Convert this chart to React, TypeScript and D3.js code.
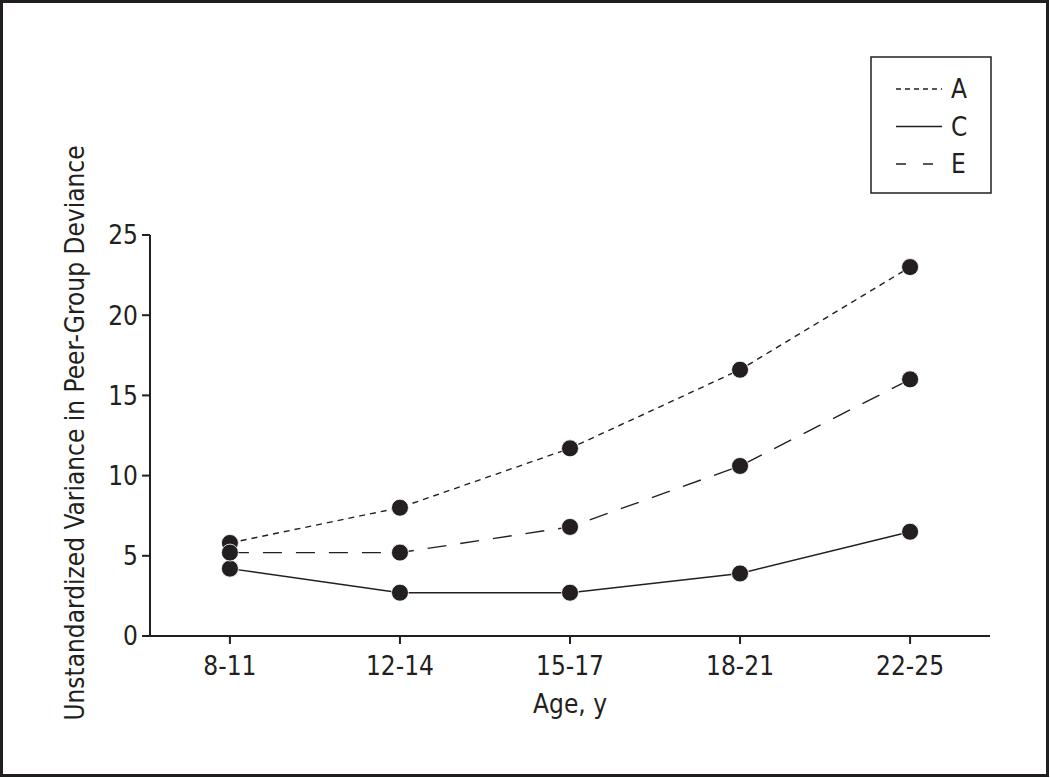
import React from "react";
import * as d3 from "d3";

const categories = ["8-11", "12-14", "15-17", "18-21", "22-25"];
const seriesA = [5.8, 8.0, 11.7, 16.6, 23.0];
const seriesC = [4.2, 2.7, 2.7, 3.9, 6.5];
const seriesE = [5.2, 5.2, 6.8, 10.6, 16.0];
const yTicks = [0, 5, 10, 15, 20, 25];

const FONT = "'Liberation Sans Narrow', 'DejaVu Sans Condensed', sans-serif";

export default function App() {
  const W = 1050, H = 778;
  const x0 = 150, x1 = 990, yTop = 235, yBot = 636;
  const x = d3.scalePoint<string>().domain(categories).range([x0, x1]).padding(0.47);
  const y = d3.scaleLinear().domain([0, 25]).range([yBot, yTop]);
  const line = d3.line<number>().x((_, i) => x(categories[i])!).y((d) => y(d));

  const series = [
    { name: "A", values: seriesA, dash: "6,5" },
    { name: "C", values: seriesC, dash: "none" },
    { name: "E", values: seriesE, dash: "19,14" },
  ];
  const legendDash: Record<string, string> = { A: "5,4", C: "none", E: "10,17" };

  return (
    <svg width={W} height={H} style={{ position: "absolute", left: 0, top: 0 }} fontFamily={FONT}>
      <rect x={0} y={0} width={W} height={H} fill="#fff" />
      <rect x={1.5} y={1.5} width={W - 4} height={H - 4} fill="none" stroke="#231f20" strokeWidth={3} />

      {/* axes */}
      <line x1={x0} x2={x0} y1={yTop} y2={yBot} stroke="#231f20" strokeWidth={2} />
      <line x1={x0 - 1} x2={x1} y1={yBot} y2={yBot} stroke="#231f20" strokeWidth={2} />
      {yTicks.map((t) => (
        <g key={t}>
          <line x1={x0 - 8} x2={x0} y1={y(t)} y2={y(t)} stroke="#231f20" strokeWidth={2} />
          <text x={x0 - 12} y={y(t)} dy="0.36em" textAnchor="end" fontSize={26} fill="#231f20">{t}</text>
        </g>
      ))}
      {categories.map((c) => (
        <g key={c}>
          <line x1={x(c)} x2={x(c)} y1={yBot} y2={yBot + 8} stroke="#231f20" strokeWidth={2} />
          <text x={x(c)} y={yBot + 39} textAnchor="middle" fontSize={26} fill="#231f20">{c}</text>
        </g>
      ))}
      <text x={(x0 + x1) / 2} y={713} textAnchor="middle" fontSize={26} fill="#231f20">Age, y</text>
      <text transform={`translate(84,433) rotate(-90)`} textAnchor="middle" fontSize={26} fill="#231f20">
        Unstandardized Variance in Peer-Group Deviance
      </text>

      {/* lines */}
      {series.map((s) => (
        <path key={s.name} d={line(s.values)!} fill="none" stroke="#231f20" strokeWidth={1.4} strokeDasharray={s.dash} />
      ))}
      {series.map((s) =>
        s.values.map((v, i) => (
          <circle key={s.name + i} cx={x(categories[i])} cy={y(v)} r={8.5} fill="#231f20" stroke="#fff" strokeWidth={0.8} />
        ))
      )}

      {/* legend */}
      <rect x={871} y={57} width={120} height={136} fill="#fff" stroke="#231f20" strokeWidth={1.5} />
      {series.map((s, i) => {
        const ly = 89 + i * 37.5;
        return (
          <g key={s.name}>
            <line x1={896} x2={942} y1={ly} y2={ly} stroke="#231f20" strokeWidth={1.4} strokeDasharray={legendDash[s.name]} />
            <text x={951} y={ly} dy="0.36em" fontSize={26} fill="#231f20">{s.name}</text>
          </g>
        );
      })}
    </svg>
  );
}
